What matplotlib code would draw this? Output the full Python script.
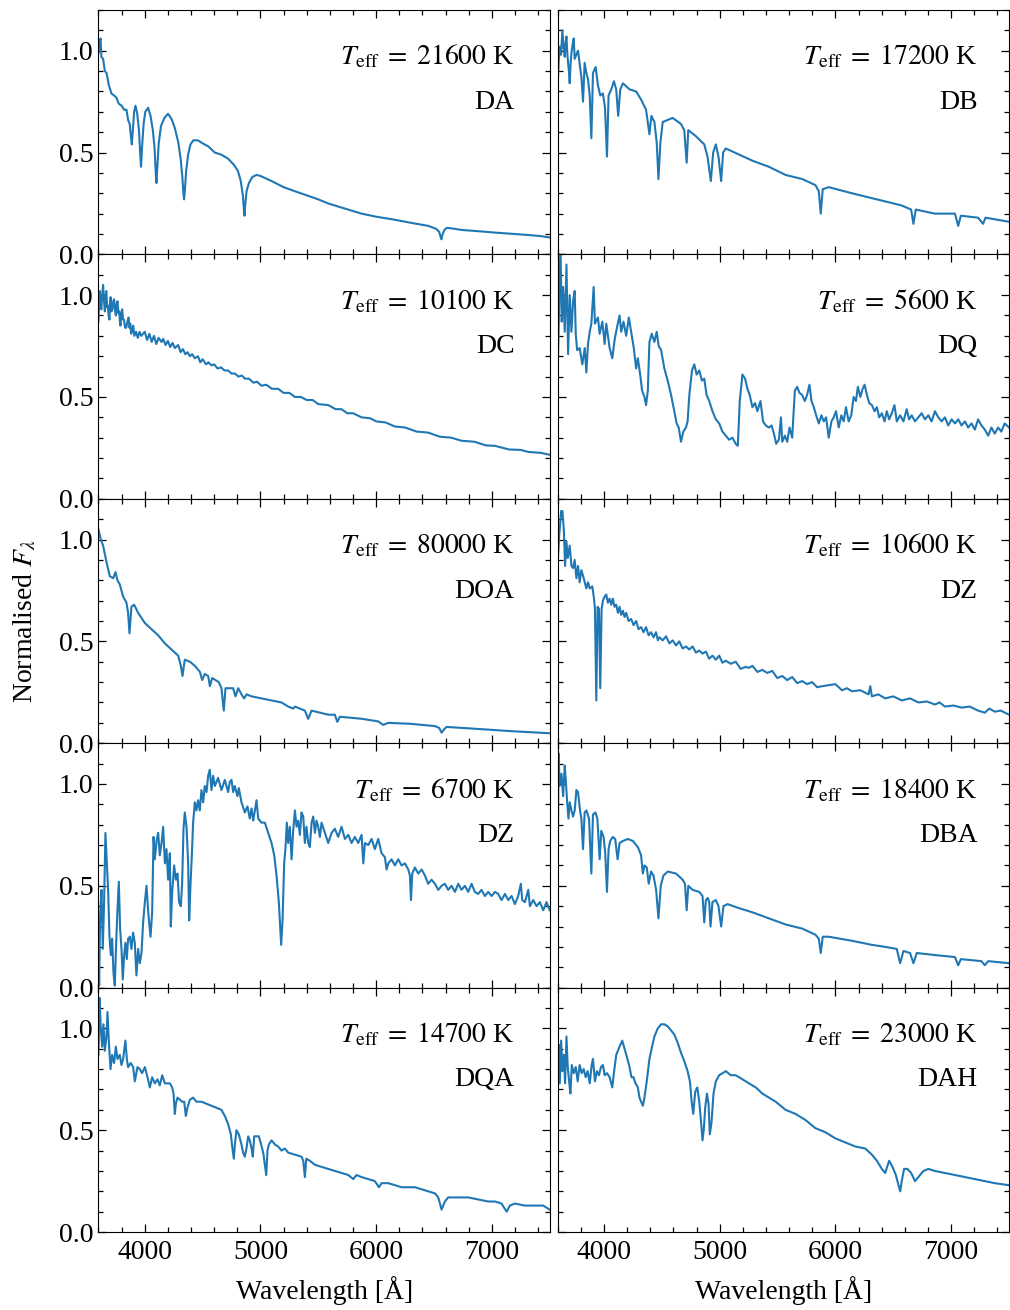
import matplotlib
matplotlib.use("Agg")
import matplotlib.pyplot as plt
from matplotlib.ticker import MultipleLocator

# ------------------------------
# Spectra (wavelength in Angstrom, normalised flux)
# ------------------------------
da_wave = [3600, 3610, 3618, 3625, 3640, 3655, 3670, 3690, 3712, 3735, 3755, 3775, 3800, 3822,
           3842, 3856, 3870, 3880, 3888, 3896, 3908, 3920, 3935, 3950, 3960, 3968, 3976, 3990,
           4005, 4029, 4050, 4070, 4085, 4095, 4101, 4108, 4120, 4140, 4170, 4200, 4215, 4235,
           4260, 4290, 4310, 4325, 4334, 4340, 4346, 4358, 4375, 4395, 4420, 4460, 4500, 4550,
           4605, 4660, 4720, 4770, 4805, 4830, 4848, 4857, 4862, 4868, 4880, 4900, 4930, 4966,
           5000, 5096, 5200, 5297, 5400, 5500, 5586, 5700, 5874, 6000, 6162, 6300, 6450, 6520,
           6545, 6558, 6564, 6572, 6590, 6610, 6650, 6738, 6900, 7027, 7150, 7315, 7420, 7500]
da_flux = [0.99, 1.04, 1.06, 0.97, 0.96, 0.90, 0.89, 0.83, 0.79, 0.78, 0.77, 0.74, 0.73, 0.71,
           0.71, 0.66, 0.64, 0.58, 0.54, 0.60, 0.70, 0.73, 0.69, 0.61, 0.50, 0.43, 0.52, 0.64,
           0.70, 0.72, 0.68, 0.61, 0.52, 0.40, 0.35, 0.42, 0.54, 0.63, 0.67, 0.69, 0.68, 0.66,
           0.62, 0.55, 0.47, 0.38, 0.30, 0.27, 0.31, 0.41, 0.49, 0.54, 0.56, 0.56, 0.545, 0.53,
           0.50, 0.49, 0.47, 0.44, 0.41, 0.36, 0.29, 0.22, 0.19, 0.24, 0.31, 0.35, 0.38, 0.39,
           0.385, 0.36, 0.33, 0.31, 0.29, 0.27, 0.25, 0.23, 0.20, 0.185, 0.17, 0.155, 0.14, 0.125,
           0.11, 0.085, 0.074, 0.095, 0.12, 0.13, 0.128, 0.12, 0.113, 0.107, 0.102, 0.095, 0.09, 0.083]

db_wave = [3600, 3608, 3617, 3628, 3640, 3650, 3660, 3668, 3675, 3682, 3689, 3696, 3703, 3710,
           3718, 3728, 3738, 3746, 3760, 3775, 3790, 3804, 3818, 3832, 3847, 3861, 3876, 3890,
           3904, 3927, 3947, 3967, 3990, 4008, 4025, 4039, 4062, 4085, 4105, 4122, 4140, 4163,
           4220, 4277, 4320, 4363, 4392, 4409, 4435, 4455, 4470, 4487, 4507, 4593, 4665, 4693,
           4714, 4728, 4794, 4866, 4894, 4923, 4943, 4966, 4989, 5012, 5029, 5052, 5167, 5282,
           5425, 5569, 5712, 5827, 5856, 5873, 5890, 5942, 6143, 6286, 6430, 6573, 6654, 6674,
           6694, 6860, 7033, 7061, 7084, 7233, 7276, 7297, 7400, 7500]
db_flux = [0.84, 0.95, 1.02, 0.98, 1.10, 1.02, 0.97, 1.04, 1.07, 0.99, 0.94, 0.90, 0.84, 0.93,
           0.99, 1.03, 1.06, 0.96, 0.98, 1.00, 0.93, 0.87, 0.75, 0.94, 0.89, 0.86, 0.78, 0.57,
           0.89, 0.92, 0.83, 0.78, 0.79, 0.72, 0.48, 0.78, 0.81, 0.85, 0.81, 0.68, 0.81, 0.84,
           0.81, 0.80, 0.76, 0.71, 0.59, 0.68, 0.65, 0.55, 0.37, 0.55, 0.65, 0.67, 0.64, 0.61,
           0.45, 0.61, 0.58, 0.54, 0.48, 0.36, 0.50, 0.54, 0.48, 0.36, 0.50, 0.52, 0.49, 0.46,
           0.43, 0.39, 0.37, 0.34, 0.31, 0.20, 0.32, 0.33, 0.30, 0.28, 0.26, 0.24, 0.22, 0.15,
           0.22, 0.20, 0.20, 0.14, 0.19, 0.18, 0.15, 0.18, 0.17, 0.16]

dc_wave = [3600, 3606, 3612, 3618, 3625, 3632, 3640, 3648, 3655, 3662, 3668, 3675, 3680, 3688,
           3695, 3700, 3705, 3712, 3720, 3728, 3735, 3742, 3750, 3758, 3765, 3772, 3780, 3785,
           3790, 3798, 3805, 3812, 3820, 3830, 3840, 3850, 3860, 3868, 3875, 3882, 3890, 3900,
           3910, 3925, 3940, 3955, 3970, 3985, 4000, 4020, 4040, 4060, 4080, 4100, 4120, 4145,
           4160, 4180, 4200, 4220, 4240, 4260, 4289, 4310, 4330, 4350, 4370, 4390, 4410, 4433,
           4460, 4480, 4500, 4530, 4550, 4577, 4600, 4630, 4660, 4690, 4721, 4750, 4780, 4810,
           4840, 4865, 4900, 4940, 4970, 5009, 5050, 5100, 5153, 5200, 5250, 5297, 5350, 5400,
           5450, 5500, 5586, 5650, 5700, 5750, 5800, 5874, 5950, 6000, 6080, 6162, 6250, 6350,
           6450, 6550, 6650, 6738, 6850, 6950, 7027, 7150, 7250, 7315, 7420, 7500]
dc_flux = [0.87, 0.98, 1.02, 0.95, 0.93, 1.00, 1.05, 0.97, 0.92, 1.00, 1.02, 0.94, 0.95, 0.90,
           0.88, 0.96, 0.99, 0.92, 0.93, 0.97, 0.98, 0.93, 0.90, 0.96, 0.97, 0.91, 0.92, 0.87,
           0.85, 0.91, 0.93, 0.88, 0.88, 0.84, 0.84, 0.87, 0.89, 0.84, 0.86, 0.81, 0.82, 0.85,
           0.80, 0.82, 0.79, 0.82, 0.80, 0.81, 0.82, 0.78, 0.81, 0.77, 0.80, 0.76, 0.79, 0.77,
           0.785, 0.755, 0.775, 0.745, 0.765, 0.74, 0.755, 0.72, 0.735, 0.71, 0.72, 0.70, 0.71, 0.69,
           0.70, 0.67, 0.685, 0.66, 0.67, 0.655, 0.66, 0.64, 0.645, 0.63, 0.63, 0.615, 0.615, 0.60,
           0.605, 0.59, 0.59, 0.57, 0.575, 0.555, 0.56, 0.54, 0.54, 0.52, 0.52, 0.50, 0.50, 0.485,
           0.485, 0.465, 0.46, 0.44, 0.44, 0.42, 0.42, 0.40, 0.395, 0.38, 0.375, 0.355, 0.35, 0.33,
           0.325, 0.305, 0.30, 0.285, 0.28, 0.262, 0.26, 0.242, 0.24, 0.23, 0.226, 0.216]

dq_wave = [3600, 3612, 3623, 3634, 3646, 3660, 3675, 3689, 3703, 3718, 3732, 3746, 3755, 3767,
           3789, 3812, 3833, 3847, 3861, 3876, 3890, 3910, 3921, 3947, 3962, 3985, 4005, 4019,
           4048, 4071, 4091, 4111, 4134, 4148, 4168, 4191, 4214, 4234, 4257, 4277, 4292, 4312,
           4329, 4349, 4363, 4378, 4392, 4412, 4435, 4455, 4472, 4493, 4521, 4550, 4579, 4607,
           4627, 4645, 4665, 4685, 4708, 4722, 4737, 4760, 4780, 4800, 4823, 4846, 4866, 4886,
           4909, 4937, 4966, 4995, 5023, 5052, 5081, 5110, 5138, 5156, 5173, 5196, 5219, 5239,
           5259, 5282, 5305, 5325, 5352, 5374, 5397, 5425, 5448, 5468, 5488, 5511, 5529, 5540,
           5563, 5583, 5603, 5626, 5649, 5669, 5689, 5712, 5735, 5755, 5775, 5793, 5813, 5833,
           5856, 5879, 5899, 5919, 5942, 5965, 5985, 6005, 6028, 6051, 6071, 6091, 6114, 6137,
           6157, 6177, 6194, 6215, 6235, 6252, 6272, 6292, 6315, 6338, 6358, 6378, 6401, 6424,
           6444, 6464, 6487, 6510, 6530, 6559, 6588, 6616, 6636, 6659, 6688, 6717, 6745, 6774,
           6803, 6831, 6860, 6889, 6918, 6946, 6975, 7004, 7033, 7061, 7090, 7119, 7147, 7176,
           7205, 7233, 7262, 7291, 7320, 7348, 7377, 7406, 7434, 7463, 7500]
dq_flux = [0.64, 0.96, 1.25, 0.87, 1.04, 0.82, 1.15, 0.71, 1.00, 0.82, 0.97, 1.02, 0.81, 0.73,
           0.74, 0.66, 0.74, 0.62, 0.76, 0.82, 0.86, 1.04, 0.86, 0.89, 0.81, 0.87, 0.76, 0.86,
           0.74, 0.69, 0.78, 0.84, 0.90, 0.82, 0.87, 0.80, 0.89, 0.82, 0.74, 0.64, 0.69, 0.61,
           0.53, 0.50, 0.46, 0.53, 0.77, 0.81, 0.77, 0.82, 0.75, 0.73, 0.64, 0.58, 0.51, 0.43,
           0.37, 0.35, 0.28, 0.33, 0.35, 0.38, 0.51, 0.63, 0.66, 0.61, 0.63, 0.58, 0.59, 0.51,
           0.48, 0.43, 0.39, 0.37, 0.33, 0.31, 0.29, 0.30, 0.27, 0.26, 0.48, 0.61, 0.59, 0.54,
           0.51, 0.45, 0.47, 0.43, 0.48, 0.38, 0.36, 0.35, 0.36, 0.32, 0.27, 0.29, 0.40, 0.28,
           0.31, 0.28, 0.35, 0.30, 0.53, 0.55, 0.52, 0.51, 0.48, 0.51, 0.56, 0.48, 0.45, 0.41,
           0.37, 0.41, 0.38, 0.40, 0.30, 0.38, 0.40, 0.43, 0.35, 0.41, 0.38, 0.45, 0.38, 0.41,
           0.50, 0.48, 0.55, 0.50, 0.54, 0.56, 0.51, 0.47, 0.46, 0.43, 0.45, 0.40, 0.42, 0.38,
           0.43, 0.39, 0.42, 0.46, 0.38, 0.41, 0.38, 0.44, 0.39, 0.41, 0.38, 0.40, 0.42, 0.39,
           0.41, 0.38, 0.43, 0.40, 0.38, 0.40, 0.36, 0.39, 0.37, 0.39, 0.36, 0.38, 0.35, 0.37,
           0.34, 0.39, 0.36, 0.34, 0.31, 0.35, 0.32, 0.35, 0.33, 0.37, 0.35]

doa_wave = [3600, 3620, 3640, 3669, 3698, 3727, 3747, 3764, 3784, 3813, 3842, 3856, 3868, 3885,
            3908, 3943, 4001, 4058, 4116, 4174, 4231, 4289, 4312, 4326, 4346, 4390, 4433, 4477,
            4496, 4519, 4548, 4563, 4583, 4640, 4663, 4683, 4698, 4735, 4764, 4784, 4808, 4836,
            4859, 4880, 4923, 5009, 5096, 5182, 5240, 5283, 5298, 5384, 5413, 5442, 5586, 5643,
            5664, 5687, 5874, 6018, 6061, 6105, 6306, 6508, 6545, 6566, 6590, 6609, 6883, 7171, 7500]
doa_flux = [1.05, 1.00, 0.97, 0.89, 0.82, 0.81, 0.84, 0.80, 0.78, 0.72, 0.69, 0.64, 0.54, 0.67,
            0.68, 0.64, 0.59, 0.56, 0.53, 0.49, 0.46, 0.43, 0.38, 0.33, 0.41, 0.40, 0.38, 0.35,
            0.31, 0.34, 0.33, 0.28, 0.32, 0.30, 0.27, 0.16, 0.27, 0.27, 0.27, 0.23, 0.27, 0.24,
            0.22, 0.24, 0.23, 0.22, 0.21, 0.20, 0.18, 0.17, 0.18, 0.16, 0.12, 0.16, 0.14, 0.14,
            0.105, 0.13, 0.12, 0.107, 0.09, 0.10, 0.095, 0.084, 0.075, 0.052, 0.07, 0.08, 0.07, 0.059, 0.049]

dz_hot_wave = [3600, 3612, 3629, 3640, 3652, 3663, 3675, 3686, 3703, 3718, 3732, 3746, 3761, 3775,
               3789, 3804, 3824, 3847, 3861, 3876, 3898, 3913, 3921, 3933, 3944, 3956, 3967, 3979,
               3990, 4005, 4019, 4033, 4048, 4062, 4076, 4090, 4105, 4120, 4134, 4148, 4163, 4177,
               4191, 4212, 4234, 4255, 4277, 4298, 4320, 4341, 4363, 4385, 4406, 4428, 4449, 4465,
               4478, 4507, 4536, 4565, 4593, 4622, 4650, 4679, 4708, 4736, 4765, 4794, 4823, 4851,
               4880, 4908, 4937, 4966, 4995, 5023, 5052, 5095, 5138, 5181, 5224, 5253, 5282, 5325,
               5368, 5411, 5454, 5497, 5540, 5583, 5626, 5669, 5712, 5755, 5798, 5842, 5885, 5942,
               5999, 6057, 6100, 6143, 6215, 6286, 6301, 6315, 6370, 6430, 6500, 6573, 6645, 6717,
               6790, 6860, 6900, 6946, 7020, 7090, 7160, 7233, 7291, 7330, 7377, 7430, 7500]
dz_hot_flux = [0.89, 1.02, 1.14, 1.14, 1.05, 0.87, 0.99, 0.91, 0.97, 0.87, 0.86, 0.90, 0.81, 0.87,
               0.79, 0.85, 0.81, 0.76, 0.79, 0.76, 0.77, 0.71, 0.66, 0.21, 0.67, 0.66, 0.27, 0.66,
               0.70, 0.72, 0.73, 0.69, 0.71, 0.68, 0.71, 0.67, 0.68, 0.64, 0.67, 0.63, 0.65, 0.62,
               0.64, 0.60, 0.61, 0.58, 0.60, 0.56, 0.57, 0.545, 0.57, 0.53, 0.545, 0.52, 0.545, 0.505,
               0.52, 0.505, 0.525, 0.49, 0.505, 0.48, 0.50, 0.465, 0.475, 0.46, 0.475, 0.445, 0.455, 0.44,
               0.45, 0.415, 0.43, 0.41, 0.43, 0.395, 0.405, 0.39, 0.40, 0.365, 0.375, 0.37, 0.38, 0.35,
               0.36, 0.345, 0.355, 0.32, 0.33, 0.31, 0.325, 0.295, 0.305, 0.29, 0.30, 0.275, 0.28, 0.285,
               0.29, 0.26, 0.27, 0.255, 0.26, 0.24, 0.28, 0.23, 0.24, 0.22, 0.23, 0.21, 0.22, 0.20,
               0.205, 0.19, 0.20, 0.18, 0.185, 0.175, 0.18, 0.16, 0.15, 0.17, 0.155, 0.16, 0.14]

dz_cool_wave = [3600, 3606, 3614, 3626, 3637, 3649, 3660, 3672, 3684, 3695, 3707, 3718, 3730, 3741,
                3753, 3764, 3776, 3787, 3799, 3810, 3822, 3833, 3845, 3856, 3871, 3885, 3899, 3914,
                3928, 3943, 3957, 3972, 3986, 4001, 4015, 4029, 4038, 4050, 4064, 4076, 4087, 4102,
                4116, 4130, 4145, 4159, 4174, 4188, 4202, 4217, 4225, 4237, 4254, 4269, 4283, 4297,
                4312, 4323, 4335, 4346, 4361, 4375, 4384, 4395, 4407, 4418, 4433, 4447, 4461, 4476,
                4490, 4505, 4519, 4534, 4548, 4562, 4577, 4591, 4606, 4634, 4663, 4692, 4721, 4735,
                4750, 4764, 4778, 4801, 4813, 4836, 4865, 4888, 4908, 4923, 4937, 4952, 4966, 4981,
                5009, 5038, 5067, 5096, 5119, 5139, 5159, 5171, 5179, 5191, 5205, 5217, 5228, 5240,
                5254, 5269, 5283, 5298, 5312, 5326, 5341, 5355, 5370, 5384, 5398, 5413, 5427, 5442,
                5456, 5471, 5485, 5499, 5514, 5528, 5557, 5586, 5615, 5643, 5672, 5701, 5730, 5759,
                5788, 5816, 5845, 5874, 5889, 5903, 5932, 5961, 5989, 6018, 6047, 6076, 6090, 6105,
                6133, 6162, 6191, 6220, 6249, 6278, 6292, 6301, 6312, 6335, 6364, 6393, 6422, 6450,
                6479, 6508, 6537, 6566, 6594, 6623, 6652, 6681, 6710, 6738, 6767, 6796, 6825, 6853,
                6882, 6911, 6940, 6969, 6998, 7027, 7055, 7084, 7113, 7142, 7171, 7199, 7228, 7251,
                7263, 7286, 7315, 7329, 7358, 7387, 7415, 7444, 7473, 7500]
dz_cool_flux = [0.22, 0.01, 0.35, 0.48, 0.19, 0.43, 0.76, 0.61, 0.47, 0.25, 0.16, 0.24, 0.07, 0.01,
                0.22, 0.38, 0.52, 0.29, 0.19, 0.04, 0.16, 0.22, 0.14, 0.24, 0.25, 0.19, 0.27, 0.22,
                0.06, 0.19, 0.12, 0.17, 0.32, 0.42, 0.50, 0.38, 0.32, 0.25, 0.37, 0.74, 0.63, 0.72,
                0.76, 0.65, 0.71, 0.79, 0.61, 0.68, 0.53, 0.66, 0.30, 0.47, 0.60, 0.53, 0.56, 0.42,
                0.40, 0.51, 0.78, 0.86, 0.79, 0.61, 0.33, 0.50, 0.65, 0.81, 0.91, 0.87, 0.92, 0.87,
                0.97, 0.91, 0.99, 0.96, 1.04, 1.07, 0.97, 1.04, 0.99, 1.03, 0.97, 1.02, 0.96, 1.01,
                1.02, 0.96, 0.99, 0.94, 0.98, 0.91, 0.86, 0.89, 0.83, 0.88, 0.82, 0.87, 0.92, 0.83,
                0.81, 0.81, 0.76, 0.71, 0.65, 0.55, 0.42, 0.29, 0.21, 0.33, 0.61, 0.69, 0.81, 0.71,
                0.79, 0.63, 0.77, 0.87, 0.79, 0.82, 0.75, 0.86, 0.84, 0.71, 0.79, 0.71, 0.69, 0.81,
                0.84, 0.76, 0.82, 0.79, 0.74, 0.81, 0.76, 0.71, 0.76, 0.78, 0.74, 0.79, 0.73, 0.75,
                0.71, 0.74, 0.71, 0.75, 0.61, 0.71, 0.70, 0.73, 0.68, 0.73, 0.66, 0.64, 0.58, 0.61,
                0.63, 0.60, 0.63, 0.60, 0.61, 0.58, 0.55, 0.43, 0.56, 0.59, 0.56, 0.58, 0.55, 0.51,
                0.53, 0.51, 0.48, 0.50, 0.51, 0.48, 0.50, 0.47, 0.51, 0.48, 0.50, 0.47, 0.51, 0.47,
                0.46, 0.48, 0.45, 0.47, 0.45, 0.47, 0.46, 0.43, 0.46, 0.43, 0.45, 0.41, 0.45, 0.51,
                0.43, 0.42, 0.48, 0.40, 0.43, 0.40, 0.42, 0.38, 0.42, 0.38]

dba_wave = [3600, 3606, 3617, 3632, 3646, 3660, 3669, 3680, 3692, 3703, 3718, 3732, 3746, 3761,
            3775, 3792, 3804, 3818, 3832, 3847, 3870, 3890, 3904, 3925, 3942, 3962, 3976, 3996,
            4010, 4025, 4039, 4053, 4076, 4096, 4117, 4134, 4163, 4206, 4249, 4292, 4320, 4335,
            4349, 4369, 4386, 4406, 4427, 4450, 4470, 4490, 4513, 4550, 4622, 4679, 4699, 4714,
            4728, 4765, 4823, 4851, 4866, 4880, 4897, 4909, 4920, 4937, 4966, 4989, 5012, 5032,
            5067, 5167, 5282, 5425, 5569, 5712, 5827, 5856, 5873, 5890, 5942, 6143, 6315, 6430,
            6530, 6559, 6588, 6645, 6674, 6703, 6860, 7033, 7061, 7084, 7262, 7291, 7320, 7500]
dba_flux = [0.55, 1.15, 0.99, 1.05, 0.94, 1.09, 1.02, 0.92, 0.83, 0.91, 0.87, 0.84, 0.87, 0.97,
            0.96, 0.87, 0.83, 0.68, 0.86, 0.87, 0.83, 0.56, 0.85, 0.86, 0.83, 0.63, 0.77, 0.74,
            0.66, 0.47, 0.68, 0.72, 0.74, 0.73, 0.63, 0.71, 0.72, 0.73, 0.72, 0.69, 0.65, 0.56,
            0.60, 0.59, 0.51, 0.57, 0.55, 0.48, 0.34, 0.50, 0.55, 0.57, 0.56, 0.53, 0.51, 0.38,
            0.50, 0.48, 0.47, 0.45, 0.32, 0.43, 0.44, 0.42, 0.30, 0.42, 0.43, 0.40, 0.30, 0.40,
            0.41, 0.39, 0.37, 0.34, 0.31, 0.29, 0.26, 0.24, 0.17, 0.25, 0.25, 0.23, 0.21, 0.20,
            0.19, 0.12, 0.18, 0.17, 0.12, 0.17, 0.16, 0.15, 0.11, 0.14, 0.13, 0.11, 0.13, 0.12]

dqa_wave = [3600, 3609, 3620, 3632, 3643, 3655, 3669, 3678, 3689, 3704, 3718, 3735, 3750, 3764,
            3784, 3799, 3813, 3833, 3845, 3856, 3879, 3900, 3914, 3937, 3957, 3977, 4001, 4024,
            4044, 4064, 4087, 4110, 4130, 4151, 4174, 4197, 4217, 4237, 4249, 4260, 4269, 4283,
            4303, 4323, 4341, 4355, 4369, 4390, 4418, 4447, 4490, 4534, 4577, 4620, 4663, 4692,
            4721, 4744, 4758, 4770, 4779, 4793, 4813, 4836, 4850, 4865, 4879, 4894, 4908, 4923,
            4934, 4946, 4966, 4986, 5001, 5015, 5027, 5038, 5050, 5061, 5073, 5096, 5125, 5153,
            5182, 5211, 5240, 5297, 5355, 5370, 5384, 5396, 5427, 5471, 5528, 5586, 5643, 5701,
            5759, 5802, 5831, 5874, 5932, 5989, 6024, 6047, 6105, 6162, 6220, 6278, 6335, 6393,
            6450, 6508, 6537, 6566, 6594, 6623, 6681, 6738, 6796, 6882, 6969, 7027, 7084, 7128,
            7156, 7199, 7286, 7372, 7444, 7500]
dqa_flux = [0.87, 1.15, 1.00, 0.91, 1.02, 0.89, 0.96, 1.08, 0.94, 0.80, 0.87, 0.83, 0.91, 0.85,
            0.87, 0.82, 0.85, 0.94, 0.85, 0.81, 0.83, 0.81, 0.74, 0.81, 0.80, 0.78, 0.81, 0.76,
            0.71, 0.76, 0.73, 0.75, 0.72, 0.77, 0.73, 0.73, 0.73, 0.71, 0.68, 0.58, 0.63, 0.66,
            0.65, 0.64, 0.64, 0.57, 0.61, 0.65, 0.66, 0.64, 0.64, 0.63, 0.62, 0.61, 0.60, 0.57,
            0.53, 0.48, 0.41, 0.36, 0.43, 0.50, 0.48, 0.43, 0.39, 0.37, 0.41, 0.47, 0.45, 0.41,
            0.37, 0.47, 0.47, 0.47, 0.44, 0.41, 0.38, 0.33, 0.28, 0.40, 0.43, 0.45, 0.43, 0.42,
            0.40, 0.41, 0.39, 0.38, 0.37, 0.35, 0.27, 0.36, 0.35, 0.33, 0.32, 0.31, 0.30, 0.29,
            0.28, 0.26, 0.28, 0.27, 0.26, 0.25, 0.22, 0.24, 0.24, 0.23, 0.22, 0.22, 0.22, 0.21,
            0.20, 0.19, 0.17, 0.11, 0.15, 0.17, 0.17, 0.17, 0.17, 0.16, 0.15, 0.15, 0.14, 0.10,
            0.13, 0.14, 0.13, 0.13, 0.13, 0.11]

dah_wave = [3600, 3609, 3617, 3629, 3640, 3652, 3663, 3675, 3686, 3698, 3709, 3721, 3738, 3755,
            3772, 3789, 3807, 3824, 3841, 3858, 3876, 3893, 3904, 3921, 3938, 3956, 3973, 3990,
            4005, 4025, 4048, 4071, 4085, 4105, 4134, 4157, 4177, 4197, 4220, 4237, 4254, 4272,
            4292, 4306, 4320, 4335, 4349, 4369, 4392, 4415, 4435, 4464, 4493, 4521, 4550, 4579,
            4607, 4636, 4665, 4693, 4722, 4742, 4757, 4771, 4788, 4806, 4823, 4840, 4851, 4863,
            4874, 4889, 4903, 4914, 4929, 4946, 4966, 4995, 5024, 5052, 5095, 5138, 5196, 5253,
            5311, 5368, 5425, 5483, 5569, 5655, 5741, 5827, 5913, 5999, 6085, 6172, 6258, 6315,
            6358, 6401, 6430, 6464, 6493, 6522, 6545, 6560, 6573, 6593, 6622, 6654, 6688, 6717,
            6760, 6803, 6860, 6946, 7033, 7119, 7205, 7291, 7377, 7500]
dah_flux = [0.81, 0.92, 0.73, 0.94, 0.79, 0.87, 0.73, 0.96, 0.81, 0.74, 0.68, 0.82, 0.78, 0.81,
            0.74, 0.82, 0.78, 0.80, 0.76, 0.79, 0.73, 0.82, 0.85, 0.74, 0.79, 0.77, 0.81, 0.82,
            0.77, 0.78, 0.76, 0.71, 0.78, 0.87, 0.91, 0.94, 0.90, 0.86, 0.81, 0.76, 0.76, 0.73,
            0.71, 0.66, 0.64, 0.62, 0.66, 0.74, 0.85, 0.91, 0.96, 1.00, 1.02, 1.02, 1.01, 0.99,
            0.97, 0.93, 0.88, 0.84, 0.79, 0.74, 0.64, 0.58, 0.69, 0.71, 0.64, 0.53, 0.45, 0.51,
            0.61, 0.68, 0.63, 0.48, 0.54, 0.68, 0.74, 0.77, 0.78, 0.79, 0.77, 0.77, 0.75, 0.73,
            0.71, 0.68, 0.66, 0.64, 0.60, 0.58, 0.55, 0.51, 0.49, 0.46, 0.44, 0.42, 0.41, 0.38,
            0.35, 0.31, 0.29, 0.35, 0.32, 0.28, 0.23, 0.20, 0.25, 0.31, 0.31, 0.29, 0.25, 0.27,
            0.30, 0.31, 0.30, 0.29, 0.28, 0.27, 0.26, 0.25, 0.24, 0.23]

# panel order: row by row, left then right
waves = [da_wave, db_wave, dc_wave, dq_wave, doa_wave, dz_hot_wave, dz_cool_wave, dba_wave, dqa_wave, dah_wave]
fluxes = [da_flux, db_flux, dc_flux, dq_flux, doa_flux, dz_hot_flux, dz_cool_flux, dba_flux, dqa_flux, dah_flux]
teffs = [21600, 17200, 10100, 5600, 80000, 10600, 6700, 18400, 14700, 23000]
classes = ["DA", "DB", "DC", "DQ", "DOA", "DZ", "DZ", "DBA", "DQA", "DAH"]

# ------------------------------
# Style
# ------------------------------
plt.rcParams["font.family"] = "serif"
plt.rcParams["font.serif"] = ["Liberation Serif", "DejaVu Serif"]
plt.rcParams["mathtext.fontset"] = "stix"
plt.rcParams["font.size"] = 20

fig, axes = plt.subplots(5, 2, figsize=(10.1, 13.1), dpi=100, sharex=True, sharey=True)
fig.subplots_adjust(left=0.0975, right=0.999, top=0.9924, bottom=0.0595, hspace=0, wspace=0.018)

for i, ax in enumerate(axes.flat):
    ax.plot(waves[i], fluxes[i], color="#1f77b4", lw=1.5)
    xt = 0.922 if i % 2 == 0 else 0.93
    ax.text(xt, 0.776, r"$T_{\rm eff}\;=\;%d$ K" % teffs[i], transform=ax.transAxes,
            ha="right", va="baseline")
    ax.text(xt, 0.596, classes[i], transform=ax.transAxes, ha="right", va="baseline")

    ax.set_xlim(3600, 7500)
    ax.set_ylim(0, 1.2)
    ax.xaxis.set_major_locator(MultipleLocator(1000))
    ax.xaxis.set_minor_locator(MultipleLocator(200))
    ax.yaxis.set_major_locator(MultipleLocator(0.5))
    ax.yaxis.set_minor_locator(MultipleLocator(0.1))
    ax.tick_params(which="both", direction="in", top=True, right=True, width=0.9)
    ax.tick_params(which="major", length=6)
    ax.tick_params(which="minor", length=3.5)
    ax.tick_params(axis="x", which="major", pad=6)

for ax in axes[-1]:
    ax.set_xlabel("Wavelength [Å]", labelpad=8)

fig.text(0.025, 0.526, r"Normalised $F_\lambda$", rotation=90, ha="center", va="center")

plt.savefig("out.png", dpi=100)
